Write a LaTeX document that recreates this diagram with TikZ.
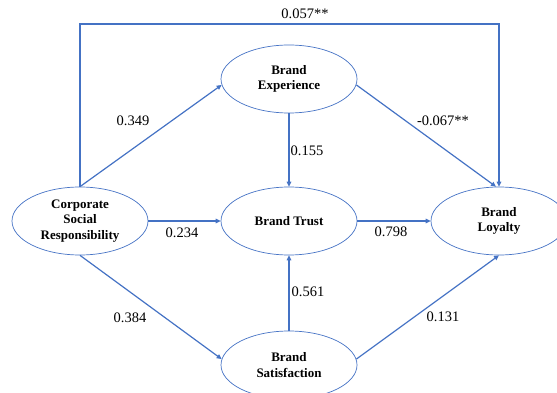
\documentclass[tikz,border=0pt]{standalone}
\usepackage{fontspec}
\setmainfont{Liberation Serif}
\usetikzlibrary{shapes.geometric,arrows.meta}
\definecolor{pathblue}{RGB}{68,114,196}
\begin{document}
\begin{tikzpicture}[x=1pt,y=-1pt]
	\tikzstyle{construct}=[draw=pathblue,line width=0.7pt,ellipse,minimum width=136pt,minimum height=68pt,inner sep=0pt,align=center,font=\fontsize{13}{15.5}\selectfont\bfseries]
	\tikzstyle{link}=[draw=pathblue,line width=1.2pt,-{Triangle[length=5pt,width=4.5pt]}]
	\tikzstyle{coef}=[font=\fontsize{14.5}{16}\selectfont,inner sep=0pt]
	\useasboundingbox (0,0) rectangle (557,393);
	% constructs
	\node[construct] (csr) at (80,221) {Corporate\\Social\\Responsibility};
	\node[construct] (be) at (289,79) {Brand\\Experience};
	\node[construct] (bt) at (289,221) {Brand Trust};
	\node[construct] (bl) at (499,221) {Brand\\Loyalty};
	\node[construct] (bs) at (289,365) {Brand\\Satisfaction};
	% paths
	\coordinate (tl) at (80,24);
	\coordinate (tr) at (499,24);
	\draw[link] (csr.north) -- (tl) -- (tr) -- (bl.north);
	\draw[link] (csr.north) -- (be.185);
	\draw[link] (be.south) -- (bt.north);
	\draw[link] (be.355) -- (bl.95);
	\draw[link] (csr.east) -- (bt.west);
	\draw[link] (bt.east) -- (bl.west);
	\draw[link] (csr.south) -- (bs.175);
	\draw[link] (bs.north) -- (bt.south);
	\draw[link] (bs.5) -- (bl.south);
	% coefficients
	\node[coef] (c057) at (305,14) {0.057**};
	\node[coef] (c349) at (133,121) {0.349};
	\node[coef] (c155) at (307,151) {0.155};
	\node[coef] (c067) at (443,121) {-0.067**};
	\node[coef] (c234) at (182,233) {0.234};
	\node[coef] (c798) at (391,232) {0.798};
	\node[coef] (c561) at (308,292) {0.561};
	\node[coef] (c384) at (130,318) {0.384};
	\node[coef] (c131) at (443,317) {0.131};
\end{tikzpicture}
\end{document}
